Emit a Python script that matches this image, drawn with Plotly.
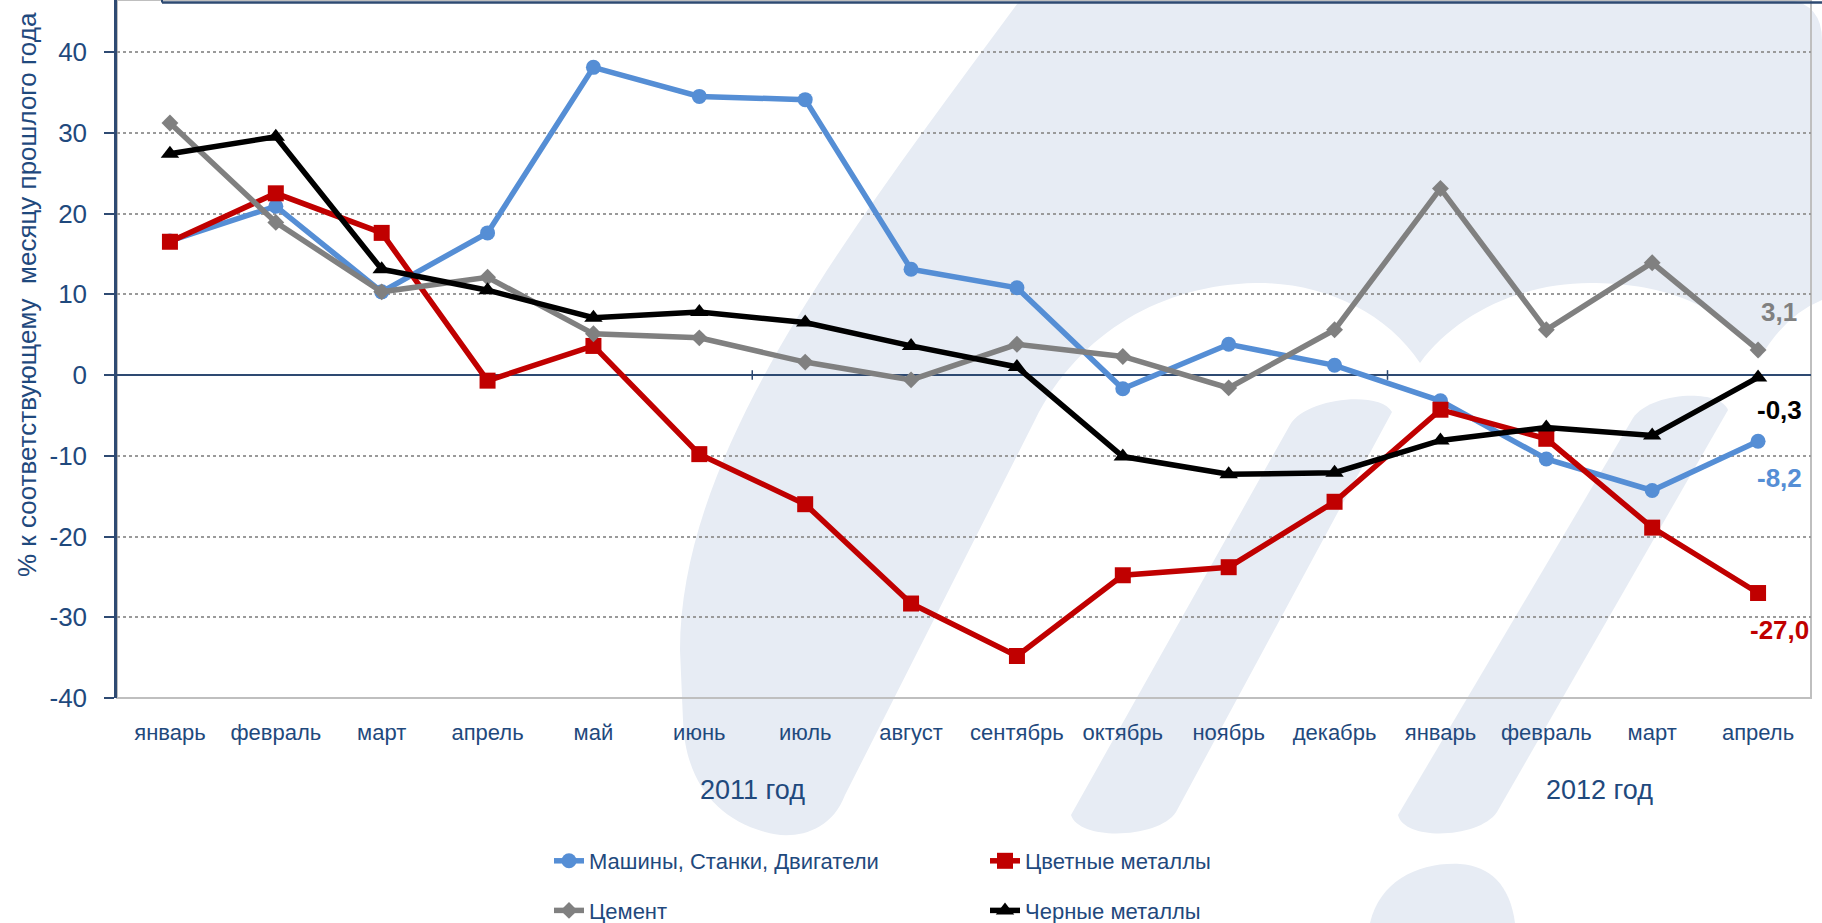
import plotly.graph_objects as go

# ---------------- data ----------------
months = ["январь", "февраль", "март", "апрель", "май", "июнь", "июль", "август",
          "сентябрь", "октябрь", "ноябрь", "декабрь", "январь", "февраль", "март", "апрель"]
years = ["2011 год", "2012 год"]
year_centers = [5.5, 13.5]
ytick_vals = [-40, -30, -20, -10, 0, 10, 20, 30, 40]
ytick_text = ["-40", "-30", "-20", "-10", "0", "10", "20", "30", "40"]

machines = [16.6, 20.9, 10.3, 17.6, 38.1, 34.5, 34.1, 13.1, 10.8, -1.7, 3.8, 1.2, -3.2, -10.4, -14.3, -8.2]
nonferrous = [16.5, 22.5, 17.6, -0.7, 3.6, -9.8, -16.0, -28.3, -34.8, -24.8, -23.8, -15.7, -4.3, -7.9, -18.9, -27.0]
cement = [31.2, 18.9, 10.3, 12.1, 5.1, 4.6, 1.6, -0.6, 3.8, 2.3, -1.6, 5.6, 23.1, 5.6, 13.9, 3.1]
ferrous = [27.4, 29.5, 13.1, 10.5, 7.1, 7.8, 6.5, 3.6, 1.0, -10.1, -12.3, -12.1, -8.1, -6.5, -7.5, -0.3]

names = ["Машины, Станки, Двигатели", "Цветные металлы", "Цемент", "Черные металлы"]
series = [machines, nonferrous, cement, ferrous]
colors = ["#558ED5", "#C00000", "#808080", "#000000"]
symbols = ["circle", "square", "diamond", "triangle-up"]
msizes = [15, 16, 13, 16]
legends = ["legend", "legend2", "legend", "legend2"]
end_labels = ["-8,2", "-27,0", "3,1", "-0,3"]
end_label_shift = [-37, -37, 38, -33]

FONT = "Liberation Sans, Arial, sans-serif"
TXT = "#1F497D"
AX = "#2E4A72"

W, H = 1822, 923
ML, MR, MT, MB = 117, 11, 0, 225
PW, PH = W - ML - MR, H - MT - MB

x = list(range(len(months)))

fig = go.Figure()
for i, (nm, ys) in enumerate(zip(names, series)):
    fig.add_trace(go.Scatter(
        x=x, y=ys, name=nm, mode="lines+markers",
        line=dict(color=colors[i], width=5.5),
        marker=dict(symbol=symbols[i], size=msizes[i], color=colors[i]),
        legend=legends[i], legendgroup=nm,
    ))

# end labels
for i, ys in enumerate(series):
    fig.add_annotation(x=x[-1], y=ys[-1], text="<b>" + end_labels[i] + "</b>",
                       showarrow=False, xshift=21, yshift=end_label_shift[i],
                       xanchor="center", yanchor="middle",
                       font=dict(family=FONT, size=26, color=colors[i]))

# year labels
for yr, c in zip(years, year_centers):
    fig.add_annotation(x=c, y=1 - (790 - MT) / PH, xref="x", yref="paper", text=yr,
                       showarrow=False, xanchor="center", yanchor="middle",
                       font=dict(family=FONT, size=27, color=TXT))

# y axis title
fig.add_annotation(x=-(ML - 27) / PW, y=1 - (295 - MT) / PH, xref="paper", yref="paper",
                   text="% к соответствующему  месяцу прошлого года", textangle=-90,
                   xanchor="center", yanchor="middle",
                   showarrow=False, font=dict(family=FONT, size=26, color=TXT))


def P(px, py):
    return f"{(px - ML) / PW:.5f},{1 - (py - MT) / PH:.5f}"


WM = "#E7ECF4"
hump = ("M" + P(1020, 0) + " L" + P(1790, 0) + " Q" + P(1822, 5) + " " + P(1822, 40) +
        " L" + P(1822, 300) + " Q" + P(1785, 315) + " " + P(1760, 358) +
        " C" + P(1720, 300) + " " + P(1655, 283) + " " + P(1590, 283) +
        " C" + P(1520, 283) + " " + P(1455, 315) + " " + P(1420, 363) +
        " C" + P(1385, 310) + " " + P(1320, 282) + " " + P(1255, 283) +
        " C" + P(1165, 285) + " " + P(1080, 330) + " " + P(1035, 420) +
        " L" + P(845, 795) + " C" + P(830, 835) + " " + P(790, 840) + " " + P(765, 832) +
        " C" + P(715, 818) + " " + P(685, 780) + " " + P(683, 720) +
        " L" + P(680, 650) + " C" + P(680, 450) + " " + P(850, 230) + " " + P(1020, 0) + " Z")
stem2 = ("M" + P(1290, 425) + " C" + P(1305, 398) + " " + P(1380, 390) + " " + P(1392, 412) +
         " L" + P(1176, 812) + " C" + P(1160, 838) + " " + P(1080, 842) + " " + P(1071, 815) + " Z")
stem3 = ("M" + P(1633, 418) + " C" + P(1650, 392) + " " + P(1720, 388) + " " + P(1728, 410) +
         " L" + P(1497, 812) + " C" + P(1480, 838) + " " + P(1405, 842) + " " + P(1398, 815) + " Z")
low1 = ("M" + P(1370, 923) + " C" + P(1380, 880) + " " + P(1420, 862) + " " + P(1460, 864) +
        " C" + P(1490, 866) + " " + P(1510, 885) + " " + P(1515, 923) + " Z")
for pth in [hump, stem2, stem3, low1]:
    fig.add_shape(type="path", path=pth, xref="paper", yref="paper",
                  fillcolor=WM, line=dict(width=0), layer="below")

# plot area border (bottom/right gray)
fig.add_shape(type="rect", xref="paper", yref="paper", x0=0, x1=1, y0=0, y1=1,
              line=dict(color="#BFBFBF", width=2), layer="below")
# title box remnant at top
fig.add_shape(type="line", xref="paper", yref="paper", x0=(162 - ML) / PW, x1=(W - ML) / PW,
              y0=1 - 2.5 / PH, y1=1 - 2.5 / PH, line=dict(color=AX, width=2.5))
fig.add_shape(type="line", xref="paper", yref="paper", x0=(162 - ML) / PW, x1=(162 - ML) / PW,
              y0=1, y1=1 - 2.5 / PH, line=dict(color=AX, width=2))
# minor ticks on zero line between year halves
for tx in [5.5, 11.5]:
    fig.add_shape(type="line", xref="x", yref="y", x0=tx, x1=tx, y0=-0.6, y1=0.6,
                  line=dict(color=AX, width=1.5))

fig.update_layout(
    width=W, height=H,
    margin=dict(l=ML, r=MR, t=MT, b=MB, pad=0, autoexpand=False),
    paper_bgcolor="white", plot_bgcolor="rgba(0,0,0,0)",
    font=dict(family=FONT, color=TXT),
    showlegend=True,
    legend=dict(x=(549 - ML) / PW, xanchor="left", y=1 - (840 - MT) / PH, yanchor="top",
                font=dict(family=FONT, size=22, color=TXT), tracegroupgap=18,
                bgcolor="rgba(0,0,0,0)"),
    legend2=dict(x=(985 - ML) / PW, xanchor="left", y=1 - (840 - MT) / PH, yanchor="top",
                 font=dict(family=FONT, size=22, color=TXT), tracegroupgap=18,
                 bgcolor="rgba(0,0,0,0)"),
    xaxis=dict(range=[-0.5, 15.5], tickmode="array", tickvals=x, ticktext=months,
               showgrid=False, zeroline=False, showline=False, ticks="",
               tickfont=dict(family=FONT, size=22, color=TXT), ticklabelstandoff=19),
    yaxis=dict(range=[-40, 46.44], tickmode="array", tickvals=ytick_vals, ticktext=ytick_text,
               showgrid=True, gridcolor="#9A9A9A", griddash="dot", gridwidth=1.5,
               zeroline=True, zerolinecolor=AX, zerolinewidth=1.5,
               showline=True, linecolor=AX, linewidth=2.5,
               ticks="outside", ticklen=10, tickwidth=2, tickcolor=AX,
               tickfont=dict(family=FONT, size=26, color=TXT), ticklabelstandoff=12),
)

fig.write_html(
    "out.html",
    config={"displayModeBar": False},
    post_script="document.body.style.margin='0';document.body.style.overflow='hidden';",
)
